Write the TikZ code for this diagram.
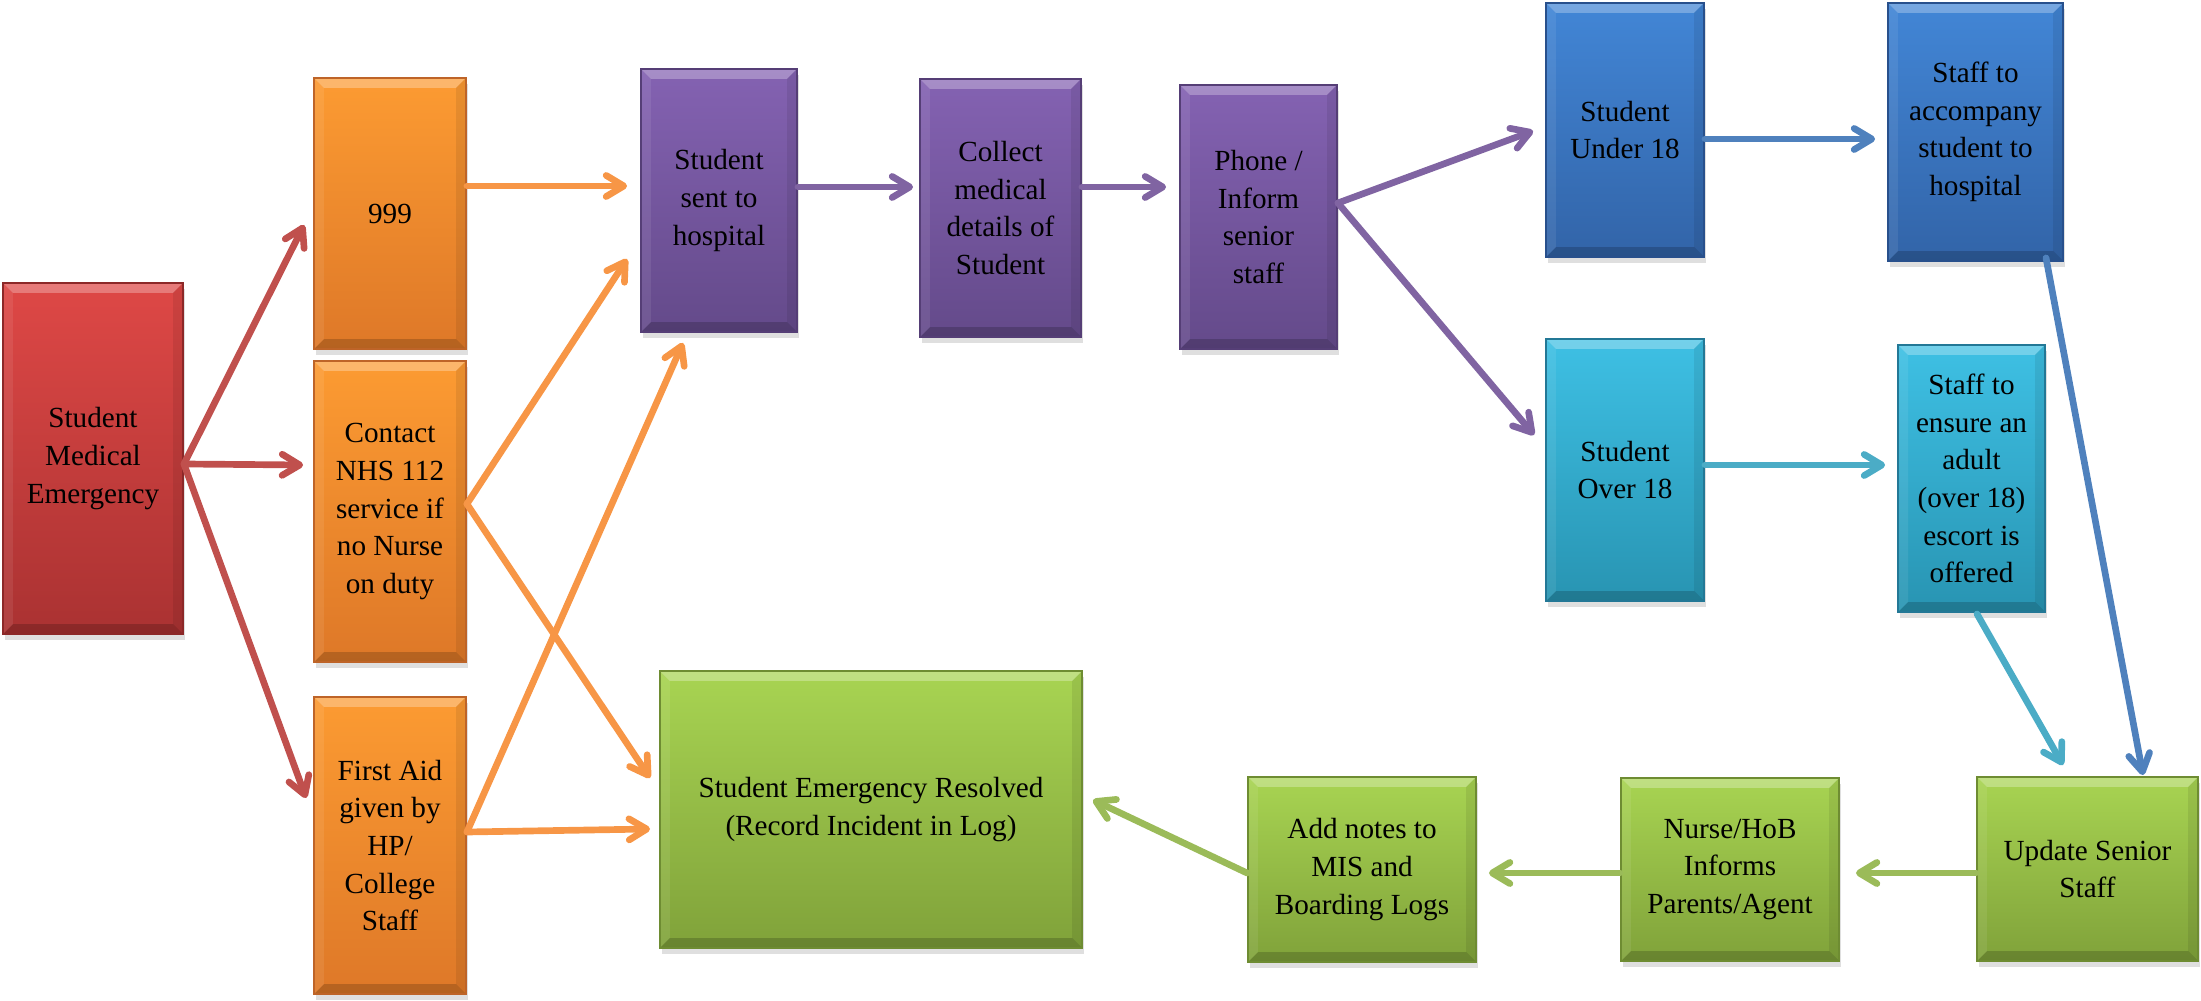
\documentclass[tikz,border=0pt]{standalone}
\usepackage{fontspec}
\setmainfont{Liberation Serif}
\usetikzlibrary{arrows.meta,shadows}
\definecolor{redT}{RGB}{222,72,70}\definecolor{redB}{RGB}{170,50,50}\definecolor{redD}{RGB}{140,40,40}
\definecolor{orangeT}{RGB}{252,155,50}\definecolor{orangeB}{RGB}{222,120,40}\definecolor{orangeD}{RGB}{190,100,40}
\definecolor{purpleT}{RGB}{132,98,178}\definecolor{purpleB}{RGB}{100,74,138}\definecolor{purpleD}{RGB}{85,62,118}
\definecolor{blueT}{RGB}{66,134,214}\definecolor{blueB}{RGB}{50,100,168}\definecolor{blueD}{RGB}{40,80,140}
\definecolor{cyanT}{RGB}{62,192,228}\definecolor{cyanB}{RGB}{40,148,178}\definecolor{cyanD}{RGB}{35,120,150}
\definecolor{greenT}{RGB}{168,212,82}\definecolor{greenB}{RGB}{128,162,58}\definecolor{greenD}{RGB}{110,140,50}
\definecolor{arRed}{HTML}{C0504D}\definecolor{arOrange}{HTML}{F79646}\definecolor{arPurple}{HTML}{8064A2}
\definecolor{arBlue}{HTML}{4F81BD}\definecolor{arCyan}{HTML}{4BACC6}\definecolor{arGreen}{HTML}{9BBB59}
\newcommand{\boxfont}{\fontsize{8.3}{10.7}\selectfont}
\tikzset{
  box/.style={rectangle, align=center, inner sep=1pt, font=\boxfont, text=black, line width=0.5pt,
    drop shadow={opacity=0.25, shadow xshift=0.02cm, shadow yshift=-0.06cm},
    path picture={
      \fill[white,opacity=0.28] (path picture bounding box.north west) -- (path picture bounding box.north east)
        -- ([shift={(-0.1cm,-0.1cm)}]path picture bounding box.north east) -- ([shift={(0.1cm,-0.1cm)}]path picture bounding box.north west) -- cycle;
      \fill[black,opacity=0.18] (path picture bounding box.south west) -- (path picture bounding box.south east)
        -- ([shift={(-0.1cm,0.1cm)}]path picture bounding box.south east) -- ([shift={(0.1cm,0.1cm)}]path picture bounding box.south west) -- cycle;
      \fill[black,opacity=0.08] (path picture bounding box.south east) -- (path picture bounding box.north east)
        -- ([shift={(-0.1cm,-0.1cm)}]path picture bounding box.north east) -- ([shift={(-0.1cm,0.1cm)}]path picture bounding box.south east) -- cycle;
      \fill[white,opacity=0.08] (path picture bounding box.south west) -- (path picture bounding box.north west)
        -- ([shift={(0.1cm,-0.1cm)}]path picture bounding box.north west) -- ([shift={(0.1cm,0.1cm)}]path picture bounding box.south west) -- cycle;
    }},
  redbox/.style={box, top color=redT, bottom color=redB, draw=redD},
  orangebox/.style={box, top color=orangeT, bottom color=orangeB, draw=orangeD},
  purplebox/.style={box, top color=purpleT, bottom color=purpleB, draw=purpleD},
  bluebox/.style={box, top color=blueT, bottom color=blueB, draw=blueD},
  cyanbox/.style={box, top color=cyanT, bottom color=cyanB, draw=cyanD},
  greenbox/.style={box, top color=greenT, bottom color=greenB, draw=greenD},
  wh/.style n args={2}{minimum width=#1, minimum height=#2},
  arr/.style={line width=1.9pt, line cap=round, line join=round,
    -{Straight Barb[length=5pt,width=6pt,line width=1.9pt,round]}, draw=#1},
}
\begin{document}
\begin{tikzpicture}[x=0.01cm,y=-0.01cm]
\useasboundingbox (0,0) rectangle (2201,1001);
% nodes
\node[redbox, wh={1.80cm}{3.51cm}] (red) at (93,458.5) {Student\\Medical\\Emergency};
\node[orangebox, wh={1.52cm}{2.71cm}] (n999) at (390,213.5) {999};
\node[orangebox, wh={1.52cm}{3.01cm}] (contact) at (390,511.5) {Contact\\NHS 112\\service if\\no Nurse\\on duty};
\node[orangebox, wh={1.52cm}{2.97cm}] (firstaid) at (390,845.5) {First Aid\\given by\\HP/\\College\\Staff};
\node[purplebox, wh={1.56cm}{2.63cm}] (hosp) at (719,200.5) {Student\\sent to\\hospital};
\node[purplebox, wh={1.61cm}{2.58cm}] (collect) at (1000.5,208) {Collect\\medical\\details of\\Student};
\node[purplebox, wh={1.57cm}{2.64cm}] (phone) at (1258.5,217) {Phone /\\Inform\\senior\\staff};
\node[bluebox, wh={1.58cm}{2.54cm}] (under) at (1625,130) {Student\\Under 18};
\node[bluebox, wh={1.75cm}{2.58cm}] (accomp) at (1975.5,132) {Staff to\\accompany\\student to\\hospital};
\node[cyanbox, wh={1.58cm}{2.62cm}] (over) at (1625,470) {Student\\Over 18};
\node[cyanbox, wh={1.47cm}{2.67cm}] (ensure) at (1971.5,478.5) {Staff to\\ensure an\\adult\\(over 18)\\escort is\\offered};
\node[greenbox, wh={4.22cm}{2.77cm}] (resolved) at (871,809.5) {Student Emergency Resolved\\(Record Incident in Log)};
\node[greenbox, wh={2.28cm}{1.85cm}] (addnotes) at (1362,869.5) {Add notes to\\MIS and\\Boarding Logs};
\node[greenbox, wh={2.18cm}{1.83cm}] (nurse) at (1730,869.5) {Nurse/HoB\\Informs\\Parents/Agent};
\node[greenbox, wh={2.21cm}{1.84cm}] (update) at (2087.5,869) {Update Senior\\Staff};
% connectors
\draw[arr=arRed] ([shift={(0,5.5)}]red.east) -- ([shift={(-9,11.5)}]n999.west);
\draw[arr=arRed] ([shift={(0,5.5)}]red.east) -- ([shift={(-10,-46.5)}]contact.west);
\draw[arr=arRed] ([shift={(0,5.5)}]red.east) -- ([shift={(-7,-47.5)}]firstaid.west);
\draw[arr=arOrange] ([shift={(0,-27.5)}]n999.east) -- ([shift={(-13,-14.5)}]hosp.west);
\draw[arr=arOrange] ([shift={(0,-7.5)}]contact.east) -- ([shift={(-13,58.5)}]hosp.west);
\draw[arr=arOrange] ([shift={(0,-7.5)}]contact.east) -- ([shift={(-9,-31.5)}]resolved.west);
\draw[arr=arOrange] ([shift={(0,-13.5)}]firstaid.east) -- ([shift={(-36,10)}]hosp.south);
\draw[arr=arOrange] ([shift={(0,-13.5)}]firstaid.east) -- ([shift={(-9,19.5)}]resolved.west);
\draw[arr=arPurple] ([shift={(0,-13.5)}]hosp.east) -- ([shift={(-6,-21)}]collect.west);
\draw[arr=arPurple] ([shift={(0,-21)}]collect.east) -- ([shift={(-13,-30)}]phone.west);
\draw[arr=arPurple] ([shift={(0,-14)}]phone.east) -- ([shift={(-12,1)}]under.west);
\draw[arr=arPurple] ([shift={(0,-14)}]phone.east) -- ([shift={(-11,-35)}]over.west);
\draw[arr=arBlue] ([shift={(0,9)}]under.east) -- ([shift={(-12,7)}]accomp.west);
\draw[arr=arCyan] ([shift={(0,-5)}]over.east) -- ([shift={(-12,-13.5)}]ensure.west);
\draw[arr=arBlue] ([shift={(70.5,-4)}]accomp.south) -- ([shift={(55.5,-1)}]update.north);
\draw[arr=arCyan] ([shift={(5.5,1)}]ensure.south) -- ([shift={(-24.5,-11)}]update.north);
\draw[arr=arGreen] ([shift={(0,4)}]update.west) -- ([shift={(16,3.5)}]nurse.east);
\draw[arr=arGreen] ([shift={(0,3.5)}]nurse.west) -- ([shift={(12,3.5)}]addnotes.east);
\draw[arr=arGreen] ([shift={(0,3.5)}]addnotes.west) -- ([shift={(10,-9.5)}]resolved.east);
\end{tikzpicture}
\end{document}
